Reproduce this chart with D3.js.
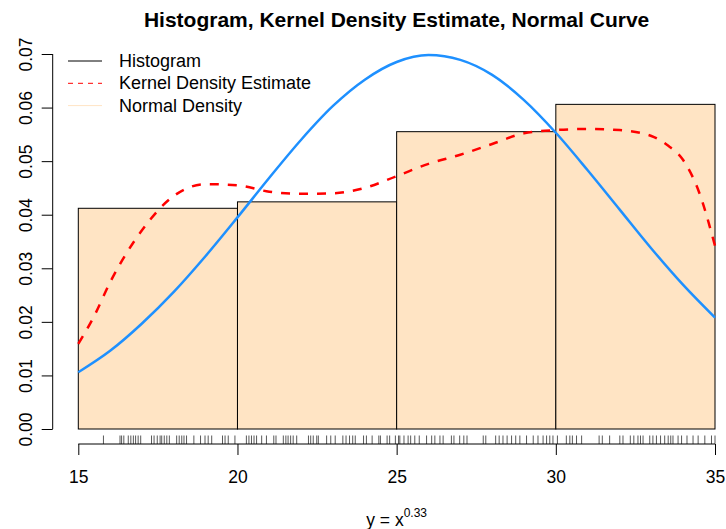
<!DOCTYPE html>
<html>
<head>
<meta charset="utf-8">
<script src="https://cdn.jsdelivr.net/npm/d3@7"></script>
<style>
  html, body { margin: 0; padding: 0; background: #fff; }
  svg { display: block; font-family: "Liberation Sans", Arial, Helvetica, sans-serif; }
</style>
</head>
<body>
<svg id="chart" width="726" height="529"></svg>
<script>
// Histogram bins (break edges) and their densities
const binEdges = [15, 20, 25, 30, 35];
const binDensity = [0.0412, 0.0424, 0.0555, 0.0606];

// Kernel density estimate, sampled along x
const kdeX = [15, 15.5, 16, 17, 18, 19, 20, 21, 22, 23, 24, 25, 26, 27, 28, 29, 30, 31, 32, 33, 33.5, 34, 34.5, 35];
const kdeY = [0.0159, 0.0211, 0.0274, 0.0371, 0.0435, 0.0457, 0.0455, 0.0443, 0.0439, 0.0440, 0.0450, 0.0472,
              0.0495, 0.0512, 0.0532, 0.0552, 0.0558, 0.0560, 0.0558, 0.0547, 0.0530, 0.0502, 0.0442, 0.0342];

// Fitted normal density, sampled along x
const normX = [15, 16, 17, 18, 19, 20, 21, 22, 23, 24, 25, 26, 27, 28, 29, 30, 31, 32, 33, 34, 35];
const normY = [0.0106, 0.0146, 0.0197, 0.0256, 0.0323, 0.0395, 0.0469, 0.0540, 0.0603, 0.0652, 0.0685,
               0.0698, 0.0689, 0.0661, 0.0614, 0.0553, 0.0483, 0.0410, 0.0337, 0.0269, 0.0208];

// Individual observations (rug)
const rugValues = [
  15.79, 16.31, 16.36, 16.43, 16.57, 16.65, 16.73, 16.80, 16.88, 16.96, 17.30, 17.38, 17.48, 17.57, 17.62,
  17.70, 17.78, 17.86, 18.09, 18.17, 18.25, 18.32, 18.40, 18.63, 18.84, 18.98, 19.08, 19.19, 19.53, 19.61,
  19.71, 19.92,
  20.28, 20.36, 20.44, 20.52, 20.60, 20.76, 20.91, 21.14, 21.21, 21.44, 21.52, 21.59, 21.67, 21.75, 21.86,
  22.23, 22.30, 22.38, 22.49, 22.54, 22.80, 22.93, 23.07, 23.31, 23.41, 23.52, 23.62, 23.70, 23.96, 24.05,
  24.23, 24.44, 24.49, 24.70, 24.78, 24.96,
  25.06, 25.10, 25.23, 25.36, 25.44, 25.57, 25.71, 25.94, 26.10, 26.20, 26.36, 26.46, 26.72, 26.80, 26.98,
  27.11, 27.21, 27.72, 27.80, 28.11, 28.22, 28.34, 28.47, 28.61, 28.74, 28.87, 29.08, 29.29, 29.44, 29.60,
  29.71, 29.81, 29.91,
  30.05, 30.33, 30.44, 30.52, 30.65, 30.81, 31.36, 31.46, 31.69, 32.01, 32.11, 32.34, 32.45, 32.58, 32.66,
  32.74, 32.95, 33.05, 33.16, 33.29, 33.42, 33.53, 33.61, 33.68, 33.84, 33.95, 34.12, 34.31, 34.47, 34.68,
  34.89, 35.00
];

const xTicks = [15, 20, 25, 30, 35];
const yTicks = [0, 0.01, 0.02, 0.03, 0.04, 0.05, 0.06, 0.07];

const titleText = "Histogram, Kernel Density Estimate, Normal Curve";
const legendItems = [
  { label: "Histogram", color: "#000000", dash: null, width: 1 },
  { label: "Kernel Density Estimate", color: "#ff0000", dash: "5,5", width: 1 },
  { label: "Normal Density", color: "bisque", dash: null, width: 1 }
];

const svg = d3.select("#chart");

const x = d3.scaleLinear().domain([15, 35]).range([78.3, 715]);
const y = d3.scaleLinear().domain([0, 0.07]).range([429, 54]);
const axisX = 52.7;   // left edge of plot region
const axisY = 444;    // bottom edge of plot region

// Histogram bars
const bins = binDensity.map((d, i) => ({ x0: binEdges[i], x1: binEdges[i + 1], d }));
svg.append("g").selectAll("rect").data(bins).join("rect")
  .attr("x", b => x(b.x0))
  .attr("y", b => y(b.d))
  .attr("width", b => x(b.x1) - x(b.x0))
  .attr("height", b => y(0) - y(b.d))
  .attr("fill", "bisque")
  .attr("stroke", "#000")
  .attr("stroke-width", 1);

// Normal curve
const line = d3.line().curve(d3.curveMonotoneX);
svg.append("path")
  .attr("d", line(normX.map((v, i) => [x(v), y(normY[i])])))
  .attr("fill", "none")
  .attr("stroke", "#1e90ff")
  .attr("stroke-width", 2.5);

// Kernel density curve
svg.append("path")
  .attr("d", line(kdeX.map((v, i) => [x(v), y(kdeY[i])])))
  .attr("fill", "none")
  .attr("stroke", "#ff0000")
  .attr("stroke-width", 2.5)
  .attr("stroke-dasharray", "9,9");

// Rug
svg.append("g").selectAll("line").data(rugValues).join("line")
  .attr("x1", d => x(d)).attr("x2", d => x(d))
  .attr("y1", axisY - 8.5).attr("y2", axisY)
  .attr("stroke", "#222")
  .attr("stroke-width", 0.75);

// X axis
const gx = svg.append("g").attr("transform", `translate(0,${axisY})`)
  .call(d3.axisBottom(x).tickValues(xTicks).tickSize(11).tickPadding(16).tickFormat(d3.format("d")));
gx.select(".domain").attr("d", `M${x(15)},0H${x(35)}`).attr("stroke", "#000");
gx.selectAll(".tick line").attr("stroke", "#000");
gx.selectAll(".tick text").attr("font-size", 17.5).attr("font-family", null).attr("fill", "#000");

// Y axis
const gy = svg.append("g").attr("transform", `translate(${axisX},0)`)
  .call(d3.axisLeft(y).tickValues(yTicks).tickSize(11).tickFormat(d3.format(".2f")));
gy.select(".domain").attr("d", `M0,${y(0)}V${y(0.07)}`).attr("stroke", "#000");
gy.selectAll(".tick line").attr("stroke", "#000");
gy.selectAll(".tick text")
  .attr("x", 0).attr("y", 0).attr("dy", null)
  .attr("transform", `translate(${31.5 - axisX},0) rotate(-90)`)
  .attr("text-anchor", "middle")
  .attr("font-size", 17.5).attr("font-family", null).attr("fill", "#000");

// Title
svg.append("text")
  .attr("x", 396.6).attr("y", 27)
  .attr("text-anchor", "middle")
  .attr("font-size", 21)
  .attr("font-weight", "bold")
  .text(titleText);

// X axis label with superscript
const xl = svg.append("text")
  .attr("x", 396.6).attr("y", 526)
  .attr("text-anchor", "middle")
  .attr("font-size", 17.5);
xl.append("tspan").text("y = x");
xl.append("tspan").attr("dy", -9).attr("font-size", 12).text("0.33");

// Legend
const legendYs = [61, 83.3, 105.6];
const lg = svg.append("g").selectAll("g").data(legendItems).join("g")
  .attr("transform", (d, i) => `translate(0,${legendYs[i]})`);
lg.append("line")
  .attr("x1", 68).attr("x2", 102).attr("y1", 0).attr("y2", 0)
  .attr("stroke", d => d.color)
  .attr("stroke-width", d => d.width)
  .attr("stroke-dasharray", d => d.dash);
lg.append("text")
  .attr("x", 119).attr("y", 6)
  .attr("font-size", 18)
  .text(d => d.label);
</script>
</body>
</html>
